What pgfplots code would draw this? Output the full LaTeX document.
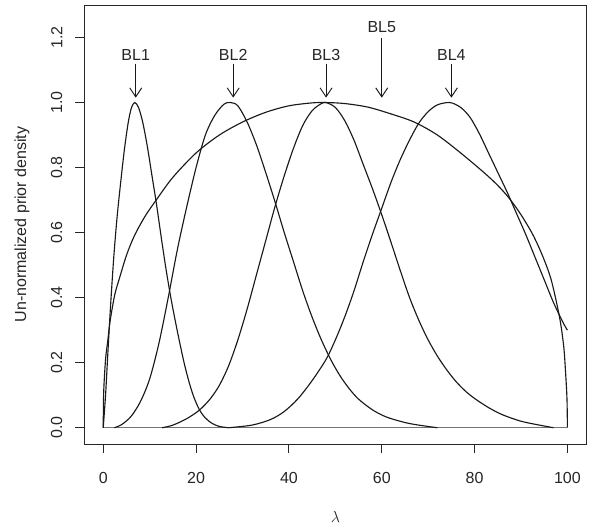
\documentclass[border=0pt]{standalone}
\usepackage{fontspec}
\setmainfont{Liberation Sans}
\usepackage{pgfplots}
\pgfplotsset{compat=1.18}
\usetikzlibrary{arrows.meta}

\pgfplotsset{curve/.style={black!90, line width=0.85pt, smooth, tension=0.5, mark=none}}

\begin{document}
\begin{tikzpicture}
\begin{axis}[
    scale only axis,
    width=376pt, height=329.25pt,
    xmin=-4, xmax=104, ymin=-0.05, ymax=1.3,
    axis line style={black!85, line width=0.7pt},
    xtick={0,20,40,60,80,100},
    xticklabels={0,20,40,60,80,100},
    ytick={0,0.2,0.4,0.6,0.8,1.0,1.2},
    yticklabels={0.0,0.2,0.4,0.6,0.8,1.0,1.2},
    tick align=outside, xtick pos=bottom, ytick pos=left,
    major tick length=7pt,
    tick style={black!85, line width=0.7pt},
    tick label style={font=\fontsize{12}{14}\selectfont, text=black!85},
    xticklabel style={anchor=center, yshift=-18.5pt},
    yticklabel style={xshift=-14pt, rotate=90, anchor=center},
    xlabel={$\lambda$},
    ylabel={Un-normalized prior density},
    label style={font=\fontsize{12}{14}\selectfont, text=black!85},
    xlabel style={at={(axis description cs:0.5,-0.166)}, anchor=center},
    ylabel style={at={(axis description cs:-0.125,0.5)}, anchor=center},
    clip=false,
]

% baseline
\addplot[black!55, line width=0.85pt, mark=none] coordinates {(0,0) (100,0)};

% BL1
\addplot[curve] coordinates {
  (0,0) (0.5,0.1) (1.0,0.23) (1.6,0.38) (2.3,0.53) (3.0,0.65)
  (3.8,0.76) (4.6,0.86) (5.4,0.94) (6.1,0.985) (6.8,1.0)
  (7.6,0.985) (8.5,0.94) (9.5,0.865) (10.5,0.775) (11.5,0.685)
  (12.5,0.585) (13.5,0.49) (14.5,0.405) (15.5,0.33) (16.5,0.26)
  (17.5,0.195) (18.5,0.14) (19.5,0.095) (20.7,0.056) (22,0.03)
  (23.5,0.013) (25,0.004) (27,0)
};

% BL2
\addplot[curve] coordinates {
  (2.4,0) (4,0.01) (6,0.035) (8,0.08) (10,0.15) (12,0.26)
  (14,0.40) (16,0.55) (18,0.68) (20,0.80) (22,0.90) (24,0.96)
  (26,0.995) (27.4,1.0) (29,0.99) (31,0.94) (33,0.87) (35,0.785)
  (37,0.695) (39,0.60) (41,0.51) (43,0.42) (45,0.34) (47,0.27)
  (49,0.21) (51,0.16) (53,0.12) (55,0.088) (58,0.055) (61,0.033)
  (65,0.016) (68,0.008) (72,0)
};

% BL3
\addplot[curve] coordinates {
  (12.7,0) (15,0.008) (18,0.028) (20.7,0.054) (23,0.088) (25,0.13)
  (27,0.19) (29,0.27) (31,0.365) (33,0.47) (35,0.575) (37,0.68)
  (39,0.775) (41,0.86) (43,0.93) (45,0.975) (47,0.997) (48,1.0)
  (50,0.985) (52,0.945) (54,0.885) (56,0.81) (58,0.735) (60,0.655)
  (62,0.57) (64,0.483) (66,0.40) (68,0.33) (70,0.27) (72,0.22)
  (74,0.178) (76,0.142) (78,0.113) (80,0.09) (83,0.062) (86,0.04)
  (90,0.02) (94,0.008) (97,0)
};

% BL4
\addplot[curve] coordinates {
  (27,0) (32,0.008) (36,0.025) (39,0.05) (42,0.09) (45,0.145)
  (48,0.21) (50,0.27) (52,0.34) (54,0.42) (56,0.51) (58,0.595)
  (60,0.675) (62,0.755) (64,0.825) (66,0.885) (68,0.937) (70,0.972)
  (72,0.993) (74.7,1.0) (77,0.985) (79,0.955) (81,0.905) (83,0.845)
  (85,0.785) (87,0.725) (89,0.66) (91,0.595) (93,0.525) (95,0.455)
  (97,0.385) (99,0.325) (100,0.30)
};

% BL5
\addplot[curve] coordinates {
  (0,0) (0.1,0.11) (0.5,0.21) (1,0.27) (1.5,0.33) (2.5,0.41)
  (3.5,0.46) (5,0.53) (6.7,0.59) (9,0.65) (11.4,0.70) (15,0.77)
  (20,0.845) (25,0.90) (30,0.94) (35,0.97) (40,0.99) (45,0.999)
  (48,1.0) (52,0.997) (57,0.986) (62,0.965) (67,0.94) (72,0.90)
  (77,0.845) (82,0.785) (85,0.745) (87.5,0.705) (90,0.655)
  (92.5,0.595) (94.6,0.53) (96.5,0.455) (98.3,0.34) (99.2,0.25)
  (99.6,0.17) (99.9,0.09) (100,0)
};

% arrows and labels
\foreach \xx/\lab in {7/BL1, 28/BL2, 48/BL3, 75/BL4} {
  \edef\temp{\noexpand\draw[black!90, line width=0.7pt, -{Straight Barb[length=6.75pt, width=9pt]}]
    (axis cs:\xx,1.12) -- (axis cs:\xx,1.015);
    \noexpand\node[font=\noexpand\fontsize{12}{14}\noexpand\selectfont, text=black!85]
    at (axis cs:\xx,1.145) {\lab};}
  \temp
}
\draw[black!90, line width=0.7pt, -{Straight Barb[length=6.75pt, width=9pt]}]
  (axis cs:60,1.20) -- (axis cs:60,1.015);
\node[font=\fontsize{12}{14}\selectfont, text=black!85] at (axis cs:60,1.232) {BL5};

\end{axis}
\pgfresetboundingbox
\path ([shift={(-63.5pt,-60.75pt)}]current axis.south west)
  rectangle ([shift={(3pt,3.75pt)}]current axis.north east);
\end{tikzpicture}
\end{document}
